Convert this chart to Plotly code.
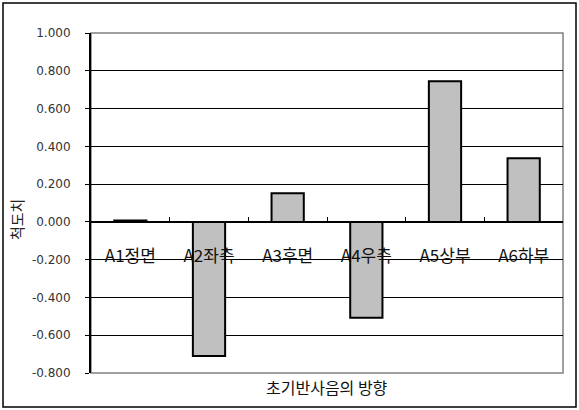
import plotly.graph_objects as go

categories = ["A1정면", "A2좌측", "A3후면", "A4우측", "A5상부", "A6하부"]
values = [0.008, -0.71, 0.152, -0.508, 0.745, 0.337]
y_tick_vals = [-0.8, -0.6, -0.4, -0.2, 0.0, 0.2, 0.4, 0.6, 0.8, 1.0]
y_tick_text = ["-0.800", "-0.600", "-0.400", "-0.200", "0.000", "0.200", "0.400", "0.600", "0.800", "1.000"]
y_title = "척도치"
x_title = "초기반사음의 방향"

W, H = 579, 410
ML, MR, MT, MB = 91, 16, 33, 37
pw, ph = W - ML - MR, H - MT - MB
ymin, ymax = -0.8, 1.0

kfont = "Noto Sans CJK KR, DejaVu Sans, sans-serif"
nfont = "DejaVu Sans, sans-serif"

fig = go.Figure()
fig.add_trace(go.Bar(
    x=categories, y=values,
    marker=dict(color="#c0c0c0", line=dict(color="black", width=2)),
    width=0.41,
))

fig.update_layout(
    width=W, height=H,
    margin=dict(l=ML, r=MR, t=MT, b=MB),
    paper_bgcolor="white", plot_bgcolor="white",
    showlegend=False,
    font=dict(family=kfont, color="black"),
    xaxis=dict(
        type="category",
        anchor="free", position=(0 - ymin) / (ymax - ymin),
        showline=True, linecolor="black", linewidth=1,
        ticks="inside", tickson="boundaries", ticklen=5, tickcolor="black",
        showgrid=False,
        tickfont=dict(size=17, color="#111", family=kfont),
        ticklabelstandoff=19,
    ),
    yaxis=dict(
        range=[ymin, ymax], domain=[0, 1],
        tickvals=y_tick_vals, ticktext=y_tick_text,
        showline=True, linecolor="black", linewidth=2,
        ticks="outside", ticklen=4, tickcolor="black",
        showgrid=True, gridcolor="black", gridwidth=1.2,
        zeroline=False,
        tickfont=dict(size=12, color="#333", family=nfont),
        ticklabelstandoff=12,
    ),
)

# plot area border (right / bottom / top)
fig.add_shape(type="rect", xref="x domain", yref="y domain", x0=0, x1=1, y0=0, y1=1,
              line=dict(color="#808080", width=1.5), layer="below")
# outer chart border
fig.add_shape(type="rect", xref="paper", yref="paper",
              x0=(3 - ML) / pw, x1=(576 - ML) / pw,
              y0=(H - MB - 407) / ph, y1=(H - MB - 3) / ph,
              line=dict(color="black", width=1.5))

fig.add_annotation(text=y_title, xref="paper", yref="paper",
                   x=(16 - ML) / pw, y=(H - MB - 220) / ph, textangle=-90,
                   xanchor="center", yanchor="middle",
                   showarrow=False, font=dict(size=15, family=kfont, color="#222"))
fig.add_annotation(text=x_title, xref="paper", yref="paper",
                   x=(327 - ML) / pw, y=(H - MB - 387) / ph,
                   xanchor="center", yanchor="middle",
                   showarrow=False, font=dict(size=16, family=kfont, color="#111"))

fig.write_html("out.html")
